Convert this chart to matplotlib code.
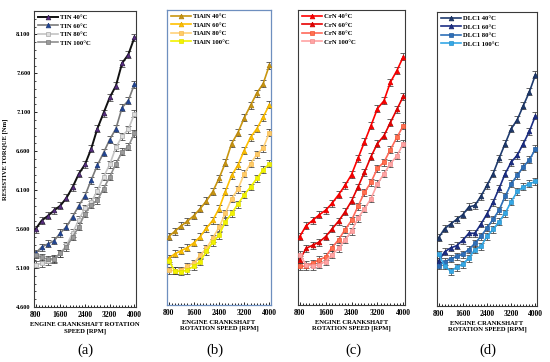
import matplotlib
matplotlib.use("Agg")
import matplotlib.pyplot as plt
from matplotlib.ticker import MultipleLocator, FixedLocator
import numpy as np

rpm = [800, 1000, 1200, 1400, 1600, 1800, 2000, 2200, 2400, 2600, 2800, 3000,
       3200, 3400, 3600, 3800, 4000]
x_ticks = [800, 1600, 2400, 3200, 4000]
y_ticks = [4.6, 5.1, 5.6, 6.1, 6.6, 7.1, 7.6, 8.1]
y_tick_labels = ["4.600", "5.100", "5.600", "6.100", "6.600", "7.100", "7.600", "8.100"]
err = 0.045

# Panel (a) TIN
tin_40 = [5.60, 5.71, 5.77, 5.84, 5.90, 6.00, 6.14, 6.31, 6.43, 6.63, 6.89, 7.09, 7.29, 7.44, 7.73, 7.84, 8.06]
tin_60 = [5.29, 5.37, 5.41, 5.45, 5.55, 5.63, 5.76, 5.90, 6.03, 6.23, 6.42, 6.58, 6.75, 6.89, 7.16, 7.25, 7.46]
tin_80 = [5.14, 5.16, 5.19, 5.21, 5.29, 5.39, 5.55, 5.72, 5.87, 5.95, 6.09, 6.27, 6.43, 6.65, 6.79, 6.88, 7.08]
tin_100 = [5.27, 5.24, 5.21, 5.22, 5.29, 5.37, 5.50, 5.63, 5.80, 5.91, 5.97, 6.12, 6.27, 6.44, 6.59, 6.66, 6.83]

# Panel (b) TiAlN
tialn_40 = [5.48, 5.55, 5.62, 5.68, 5.75, 5.84, 5.94, 6.06, 6.23, 6.43, 6.68, 6.82, 7.01, 7.17, 7.33, 7.45, 7.69]
tialn_60 = [5.20, 5.26, 5.30, 5.34, 5.40, 5.48, 5.59, 5.69, 5.84, 6.06, 6.27, 6.40, 6.59, 6.76, 6.87, 7.02, 7.18]
tialn_80 = [5.05, 5.04, 5.05, 5.10, 5.14, 5.24, 5.33, 5.46, 5.60, 5.78, 5.97, 6.09, 6.29, 6.42, 6.54, 6.62, 6.82]
tialn_100 = [5.17, 5.04, 5.03, 5.05, 5.10, 5.16, 5.29, 5.41, 5.50, 5.67, 5.78, 5.90, 6.02, 6.12, 6.23, 6.34, 6.42]

# Panel (c) CrN
crn_40 = [5.48, 5.62, 5.69, 5.76, 5.82, 5.91, 6.02, 6.14, 6.28, 6.49, 6.70, 6.91, 7.13, 7.23, 7.47, 7.62, 7.80]
crn_60 = [5.18, 5.33, 5.37, 5.41, 5.48, 5.58, 5.68, 5.80, 5.94, 6.12, 6.31, 6.51, 6.68, 6.78, 6.95, 7.12, 7.29]
crn_80 = [5.10, 5.10, 5.14, 5.18, 5.22, 5.34, 5.44, 5.57, 5.69, 5.87, 6.05, 6.18, 6.36, 6.44, 6.60, 6.76, 6.91]
crn_100 = [5.25, 5.12, 5.10, 5.12, 5.16, 5.25, 5.33, 5.44, 5.55, 5.72, 5.84, 5.97, 6.16, 6.29, 6.42, 6.52, 6.68]

# Panel (d) DLC1
dlc_40 = [5.48, 5.60, 5.66, 5.72, 5.78, 5.88, 5.90, 6.02, 6.16, 6.31, 6.51, 6.70, 6.89, 7.01, 7.19, 7.37, 7.59]
dlc_60 = [5.18, 5.30, 5.35, 5.38, 5.45, 5.54, 5.54, 5.66, 5.79, 5.94, 6.12, 6.31, 6.46, 6.55, 6.70, 6.86, 7.06]
dlc_80 = [5.12, 5.17, 5.21, 5.24, 5.27, 5.33, 5.41, 5.50, 5.61, 5.72, 5.84, 6.02, 6.18, 6.29, 6.40, 6.49, 6.63]
dlc_100 = [5.27, 5.12, 5.05, 5.10, 5.14, 5.22, 5.33, 5.37, 5.50, 5.59, 5.69, 5.80, 5.95, 6.08, 6.14, 6.18, 6.21]

panels = [
    ("(a)", [("TIN 40°C", tin_40), ("TIN 60°C", tin_60), ("TIN 80°C", tin_80), ("TIN 100°C", tin_100)],
     "ENGINE CRANKSHAFT ROTATION\nSPEED [RPM]"),
    ("(b)", [("TiAlN 40°C", tialn_40), ("TiAlN 60°C", tialn_60), ("TiAlN 80°C", tialn_80), ("TiAlN 100°C", tialn_100)],
     "ENGINE CRANKSHAFT\nROTATION SPEED [RPM]"),
    ("(c)", [("CrN 40°C", crn_40), ("CrN 60°C", crn_60), ("CrN 80°C", crn_80), ("CrN 100°C", crn_100)],
     "ENGINE CRANKSHAFT\nROTATION SPEED [RPM]"),
    ("(d)", [("DLC1 40°C", dlc_40), ("DLC1 60°C", dlc_60), ("DLC1 80°C", dlc_80), ("DLC1 100°C", dlc_100)],
     "ENGINE CRANKSHAFT\nROTATION SPEED [RPM]"),
]

# styles: (line color, marker, marker face, marker edge, linewidth)
styles = [
    [("#111111", "^", "#5b2d86", "#2a1a40", 1.4), ("#7a7a7a", "^", "#1f4596", "#1f3a7a", 1.2),
     ("#c4c4c4", "s", "#dedede", "#a8a8a8", 1.2), ("#8f8f8f", "s", "#9a9a9a", "#7a7a7a", 1.2)],
    [("#c9960f", "^", "#c9960f", "#b08010", 1.2), ("#ffc000", "^", "#ffc000", "#e0a800", 1.2),
     ("#ffd27a", "s", "#ffcc66", "#f5b850", 1.2), ("#f2f200", "s", "#f2f200", "#e0e000", 1.2)],
    [("#ff0000", "^", "#ff0000", "#dd0000", 1.2), ("#e80000", "^", "#e80000", "#c80000", 1.2),
     ("#ff6a5a", "s", "#ff7050", "#f05030", 1.2), ("#ffa3a3", "s", "#ffa3a3", "#f08c8c", 1.2)],
    [("#1f3b6e", "^", "#1f3b6e", "#152a55", 1.2), ("#1c2f85", "^", "#1c2f85", "#142270", 1.2),
     ("#2e6fb8", "s", "#2e6fb8", "#245d9e", 1.2), ("#35a8e6", "s", "#35a8e6", "#2a90c8", 1.2)],
]

frame_colors = ["#3a3a3a", "#6e8fbf", "#3a3a3a", "#3a3a3a"]

positions = [
    [34/550, 1-307/362, 102/550, 296/362],
    [167/550, 1-305/362, 104/550, 295/362],
    [298/550, 1-305/362, 107/550, 295/362],
    [437/550, 1-306/362, 100/550, 294/362],
]
label_x = [85, 215, 353, 488]

serif = ["Liberation Serif", "DejaVu Serif"]

fig = plt.figure(figsize=(5.5, 3.62), dpi=100)
fig.patch.set_facecolor("white")

for i, (tag, series, xlabel) in enumerate(panels):
    ax = fig.add_axes(positions[i])
    for j, (name, vals) in enumerate(series):
        lc, mk, mf, me, lw = styles[i][j]
        ax.errorbar(rpm, vals, yerr=err, fmt="none", ecolor="#3c3c3c",
                    elinewidth=0.55, capsize=1.9, capthick=0.55, zorder=2)
        ax.plot(rpm, vals, color=lc, marker=mk, markersize=3.4 if mk == "^" else 3.1,
                markerfacecolor=mf, markeredgecolor=me, markeredgewidth=0.5,
                linewidth=lw, label=name, zorder=3)
    ax.set_xlim(750, 4050)
    ax.set_ylim(4.6, 8.4)
    ax.xaxis.set_major_locator(FixedLocator(x_ticks))
    ax.xaxis.set_minor_locator(MultipleLocator(100))
    ax.set_xticklabels([str(v) for v in x_ticks], fontfamily=serif, fontweight="bold", fontsize=5.5)
    ax.tick_params(axis="x", which="major", length=2, width=0.6, pad=3, direction="in")
    ax.tick_params(axis="x", which="minor", length=1.5, width=0.6, direction="in")
    ax.yaxis.set_major_locator(FixedLocator(y_ticks))
    if i == 0:
        ax.set_yticklabels(y_tick_labels, fontfamily=serif, fontweight="bold", fontsize=4.6)
        ax.yaxis.set_minor_locator(MultipleLocator(0.1))
        ax.tick_params(axis="y", which="major", length=2.5, width=0.6, pad=2.5, direction="in")
        ax.tick_params(axis="y", which="minor", length=1.5, width=0.5, direction="in")
        ax.set_ylabel("RESISTIVE TORQUE [Nm]", fontfamily=serif, fontweight="bold", fontsize=4.8)
        ax.yaxis.set_label_coords(-0.255, 0.5)
    else:
        ax.set_yticks([])
    for sp in ax.spines.values():
        sp.set_color(frame_colors[i])
        sp.set_linewidth(0.9 if i == 1 else 0.8)
    ax.set_xlabel(xlabel, fontfamily=serif, fontweight="bold", fontsize=4.8, linespacing=1.3)
    ax.xaxis.set_label_coords(0.5, -0.05)
    leg = ax.legend(loc="upper left", frameon=False, prop={"family": serif, "weight": "bold", "size": 4.8},
                    handlelength=3.0, handletextpad=0.3, labelspacing=0.42,
                    borderaxespad=0.2, borderpad=0.35)
    fig.text(label_x[i]/550, 1-350/362, tag, ha="center", va="center",
             fontfamily=serif, fontsize=10.5)

fig.savefig("out.png", dpi=100, facecolor="white")
